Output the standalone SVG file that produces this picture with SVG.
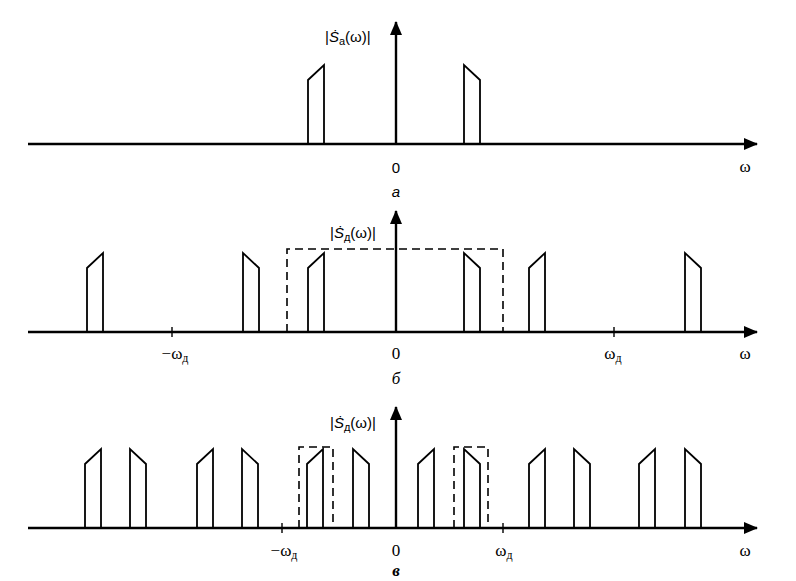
<svg xmlns="http://www.w3.org/2000/svg" width="796" height="581" viewBox="0 0 796 581">
<defs>
<marker id="ah" viewBox="0 0 14 12" refX="13" refY="6" markerWidth="14" markerHeight="12" markerUnits="userSpaceOnUse" orient="auto">
<path d="M0,0 L14,6 L0,12 Z" fill="#000"/>
</marker>
<path id="up" d="M0,0 V-64 L16,-79 V0" />
<path id="dn" d="M0,0 V-79 L16,-64 V0" />
</defs>
<style>
.ax{stroke:#000;stroke-width:2.4;fill:none}
.p{stroke:#000;stroke-width:1.8;fill:none;stroke-linejoin:miter}
.d{stroke:#000;stroke-width:1.6;fill:none;stroke-dasharray:8 5}
.t{font-family:"Liberation Serif",serif;font-size:17px;fill:#000}
.s{font-family:"Liberation Sans",sans-serif;font-size:15px;fill:#000}
.tk{stroke:#000;stroke-width:1.4}
</style>
<rect width="796" height="581" fill="#fff"/>

<g id="connectors">
<line class="ax" x1="28" y1="144" x2="757" y2="144" marker-end="url(#ah)"/>
<line class="ax" x1="396" y1="144" x2="396" y2="22" marker-end="url(#ah)"/>
<line class="ax" x1="28" y1="332" x2="757" y2="332" marker-end="url(#ah)"/>
<line class="ax" x1="396" y1="332" x2="396" y2="211" marker-end="url(#ah)"/>
<line class="ax" x1="28" y1="528" x2="757" y2="528" marker-end="url(#ah)"/>
<line class="ax" x1="396" y1="528" x2="396" y2="407" marker-end="url(#ah)"/>
</g>

<g id="panel-a">
<use href="#up" class="p" transform="translate(308,144)"/>
<use href="#dn" class="p" transform="translate(464,144)"/>
<text class="s" x="325" y="42">|<tspan font-style="italic">Ṡ</tspan><tspan font-size="11" dy="3">а</tspan><tspan dy="-3">(ω)|</tspan></text>
<text class="s" x="396" y="173" text-anchor="middle" font-size="16">0</text>
<text class="t" x="745" y="172" text-anchor="middle">ω</text>
<text class="s" x="396" y="197" text-anchor="middle" font-style="italic" font-size="16">а</text>
</g>

<g id="panel-b">
<use href="#up" class="p" transform="translate(87,332)"/>
<use href="#dn" class="p" transform="translate(243,332)"/>
<use href="#up" class="p" transform="translate(308,332)"/>
<use href="#dn" class="p" transform="translate(464,332)"/>
<use href="#up" class="p" transform="translate(529,332)"/>
<use href="#dn" class="p" transform="translate(685,332)"/>
<path class="d" d="M287,332 V249 H503 V332"/>
<line class="tk" x1="172" y1="327" x2="172" y2="337"/>
<line class="tk" x1="614" y1="327" x2="614" y2="337"/>
<text class="s" x="330" y="238">|<tspan font-style="italic">Ṡ</tspan><tspan font-size="11" dy="3">д</tspan><tspan dy="-3">(ω)|</tspan></text>
<text class="t" x="175" y="359" text-anchor="middle">−ω<tspan font-size="12" dy="3">д</tspan></text>
<text class="t" x="396" y="359" text-anchor="middle">0</text>
<text class="t" x="613" y="359" text-anchor="middle">ω<tspan font-size="12" dy="3">д</tspan></text>
<text class="t" x="745" y="359" text-anchor="middle">ω</text>
<text class="t" x="396" y="384" text-anchor="middle" font-style="italic">б</text>
</g>

<g id="panel-c">
<use href="#up" class="p" transform="translate(85,528)"/>
<use href="#dn" class="p" transform="translate(130,528)"/>
<use href="#up" class="p" transform="translate(197,528)"/>
<use href="#dn" class="p" transform="translate(242,528)"/>
<use href="#up" class="p" transform="translate(307,528)"/>
<use href="#dn" class="p" transform="translate(353,528)"/>
<use href="#up" class="p" transform="translate(418,528)"/>
<use href="#dn" class="p" transform="translate(464,528)"/>
<use href="#up" class="p" transform="translate(529,528)"/>
<use href="#dn" class="p" transform="translate(574,528)"/>
<use href="#up" class="p" transform="translate(639,528)"/>
<use href="#dn" class="p" transform="translate(685,528)"/>
<path class="d" d="M299,528 V447 H333 V528"/>
<path class="d" d="M454,528 V447 H488 V528"/>
<line class="tk" x1="282" y1="523" x2="282" y2="533"/>
<line class="tk" x1="503" y1="523" x2="503" y2="533"/>
<text class="s" x="330" y="428">|<tspan font-style="italic">Ṡ</tspan><tspan font-size="11" dy="3">д</tspan><tspan dy="-3">(ω)|</tspan></text>
<text class="t" x="284" y="556" text-anchor="middle">−ω<tspan font-size="12" dy="3">д</tspan></text>
<text class="t" x="396" y="556" text-anchor="middle">0</text>
<text class="t" x="504" y="556" text-anchor="middle">ω<tspan font-size="12" dy="3">д</tspan></text>
<text class="t" x="745" y="556" text-anchor="middle">ω</text>
<text class="t" x="396" y="576" text-anchor="middle" font-style="italic" font-weight="bold" font-size="15">в</text>
</g>
</svg>
